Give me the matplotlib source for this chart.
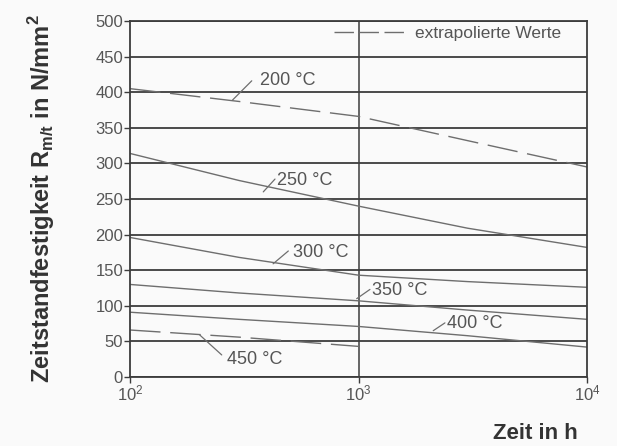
import numpy as np
import matplotlib
matplotlib.use("Agg")
import matplotlib.pyplot as plt
from matplotlib.lines import Line2D

plt.rcParams['font.family'] = ['Liberation Sans', 'DejaVu Sans']
plt.rcParams['mathtext.fontset'] = 'custom'
plt.rcParams['mathtext.rm'] = 'Liberation Sans'

# Zeit in h (log axis) and strength values in N/mm^2
zeit = [100, 300, 1000, 3000, 10000]
r_200 = [405, 387, 366, 332, 295]
r_250 = [314, 276, 240, 209, 182]
r_300 = [196, 168, 143, 134, 126]
r_350 = [130, 118, 107, 94, 81]
r_400 = [91, 81, 71, 58, 42]
zeit_450 = [100, 300, 1000]
r_450 = [66, 56, 43]

y_ticks = list(range(0, 501, 50))
x_ticks = [100, 1000, 10000]
x_tick_labels = [r'$\mathregular{10^2}$', r'$\mathregular{10^3}$', r'$\mathregular{10^4}$']

grid_col = '#3c3c3c'
curve_col = '#6e6e6e'
text_col = '#555555'
bg = '#fafafa'

fig = plt.figure(figsize=(6.17, 4.46), dpi=100, facecolor=bg)
ax = fig.add_axes([0.2107, 0.1547, 0.7407, 0.7982], facecolor=bg)

ax.set_xscale('log')
ax.set_xlim(100, 10000)
ax.set_ylim(0, 500)

# grid: every 50 N/mm^2 and one vertical line at 10^3
for y in y_ticks:
    ax.axhline(y, color=grid_col, lw=1.3, zorder=1)
ax.axvline(1000, color=grid_col, lw=1.1, zorder=1)

dash = (0, (22, 7))
ax.plot(zeit, r_200, color=curve_col, lw=1.0, ls=dash, zorder=2)
ax.plot(zeit, r_250, color=curve_col, lw=1.0, zorder=2)
ax.plot(zeit, r_300, color=curve_col, lw=1.0, zorder=2)
ax.plot(zeit, r_350, color=curve_col, lw=1.0, zorder=2)
ax.plot(zeit, r_400, color=curve_col, lw=1.0, zorder=2)
ax.plot(zeit_450, r_450, color=curve_col, lw=1.0, ls=dash, zorder=2)

# curve labels: text position, leader start (on curve), leader end
labels = [
    ("200 °C", (371, 416), (281, 389), (341, 416)),
    ("250 °C", (440, 276), (383, 260), (431, 278)),
    ("300 °C", (516, 175), (423, 159), (493, 177)),
    ("350 °C", (1143, 122), (982, 110), (1122, 123)),
    ("400 °C", (2432, 75), (2123, 65), (2389, 76)),
    ("450 °C", (265, 25), (202, 59), (252, 31)),
]
for txt, pos, p0, p1 in labels:
    ax.annotate("", xy=p0, xytext=p1,
                arrowprops=dict(arrowstyle='-', color=curve_col, lw=0.9,
                                shrinkA=0, shrinkB=0))
    ax.text(pos[0], pos[1], txt, fontsize=13, color=text_col,
            ha='left', va='center')

leg_handle = Line2D([], [], color=curve_col, lw=1.0, ls=(0, (14, 4)))
leg = ax.legend([leg_handle], ['extrapolierte Werte'], loc='upper right',
                frameon=False, fontsize=12.5, handlelength=4.3,
                handletextpad=0.4, borderaxespad=0.0, borderpad=0.3,
                bbox_to_anchor=(0.955, 1.0))
for t in leg.get_texts():
    t.set_color(text_col)

for s in ax.spines.values():
    s.set_color(grid_col)
    s.set_linewidth(1.3)

ax.set_yticks(y_ticks)
ax.set_xticks(x_ticks)
ax.set_xticklabels(x_tick_labels)
ax.xaxis.set_minor_locator(matplotlib.ticker.NullLocator())
ax.tick_params(axis='both', labelsize=12, labelcolor=text_col, color=grid_col,
               length=4, width=1.0, pad=1)

ax.set_ylabel(r'Zeitstandfestigkeit R$_{\mathregular{m/t}}$ in N/mm$^{\mathregular{2}}$',
              fontsize=17, fontweight='bold', color='#333333')
ax.yaxis.set_label_coords(-0.16, 0.5)
ax.set_xlabel('Zeit in h', fontsize=16, fontweight='bold', color='#333333')
ax.xaxis.set_label_coords(0.888, -0.13)

fig.savefig('out.png', dpi=100, facecolor=bg)
